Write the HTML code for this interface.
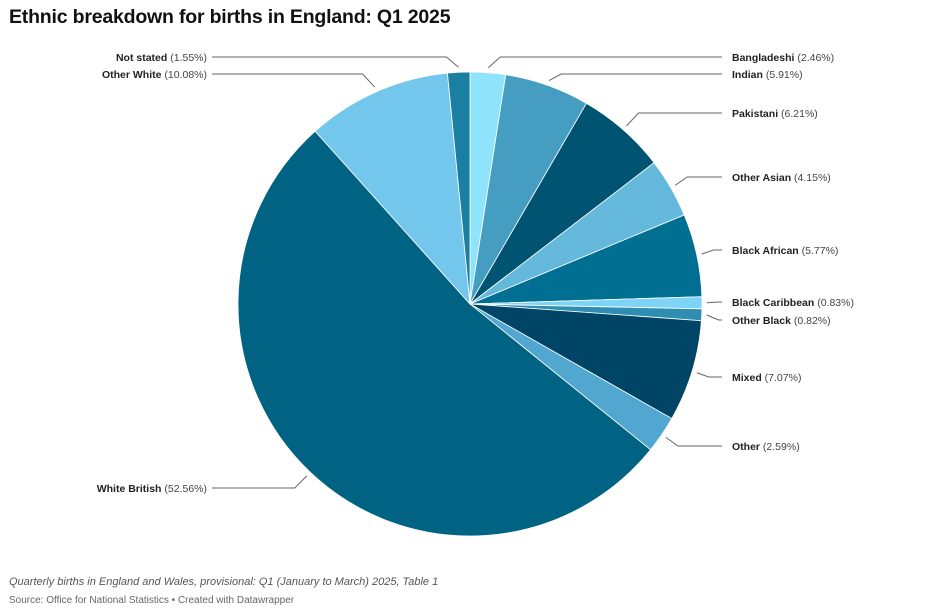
<!DOCTYPE html>
<html><head><meta charset="utf-8">
<style>
body{margin:0;background:#fff;font-family:"Liberation Sans",sans-serif;}
#wrap{position:relative;width:940px;height:615px;overflow:hidden}
h1{position:absolute;left:9px;top:6px;margin:0;font-size:19.5px;font-weight:bold;color:#111;letter-spacing:-0.2px}
.note{position:absolute;left:9px;font-size:11px;color:#555}
</style></head><body>
<div id="wrap">
<h1>Ethnic breakdown for births in England: Q1 2025</h1>
<svg id="pie" width="940" height="615" style="position:absolute;left:0;top:0"></svg>
<div class="note" style="top:576px;font-style:italic">Quarterly births in England and Wales, provisional: Q1 (January to March) 2025, Table 1</div>
<div class="note" style="top:595px;font-size:10px;color:#666">Source: Office for National Statistics • Created with Datawrapper</div>
</div>
<script>
const categories=["Bangladeshi","Indian","Pakistani","Other Asian","Black African","Black Caribbean","Other Black","Mixed","Other","White British","Other White","Not stated"];
const values=[2.46,5.91,6.21,4.15,5.77,0.83,0.82,7.07,2.59,52.56,10.08,1.55];
const colors=["#8fe3fb","#459dc1","#005472","#64b8dc","#006f92","#7ed4f7","#2f8db3","#004565","#51a7cf","#006384","#74c7ec","#1a7fa2"];
const labelY=[57,74,113,177,250,302,320,377,446,488,74,57];
const cx=470,cy=304,r=232;
const svg=document.getElementById('pie');
const NS='http://www.w3.org/2000/svg';
const total=values.reduce((a,b)=>a+b,0);
function pt(a,rad){return [cx+rad*Math.sin(a),cy-rad*Math.cos(a)];}
let acc=0;
values.forEach((v,i)=>{
  const a0=acc/total*2*Math.PI; acc+=v; const a1=acc/total*2*Math.PI;
  const p0=pt(a0,r),p1=pt(a1,r);
  const large=(a1-a0)>Math.PI?1:0;
  const path=document.createElementNS(NS,'path');
  path.setAttribute('d',`M${cx},${cy}L${p0[0]},${p0[1]}A${r},${r} 0 ${large} 1 ${p1[0]},${p1[1]}Z`);
  path.setAttribute('fill',colors[i]);path.setAttribute('stroke','#fff');path.setAttribute('stroke-width','0.8');
  
  
  svg.appendChild(path);
  const am=(a0+a1)/2; const s=pt(am,r+5);
  const right=Math.sin(am)>0;
  const ly=labelY[i];
  const ex=s[0]+(right?1:-1)*Math.max(12,Math.abs(s[1]-ly)*0.9);
  const endX=right?722:212;
  const line=document.createElementNS(NS,'polyline');
  line.setAttribute('points',`${s[0]},${s[1]} ${ex},${ly} ${endX},${ly}`);
  line.setAttribute('fill','none');line.setAttribute('stroke','#666');line.setAttribute('stroke-width','1');
  
  
  svg.appendChild(line);
  const t=document.createElementNS(NS,'text');
  t.setAttribute('x',right?732:207);t.setAttribute('y',ly+4);
  t.setAttribute('text-anchor',right?'start':'end');
  t.setAttribute('font-size','10.5');t.setAttribute('fill','#222');
  t.setAttribute('font-family','Liberation Sans, sans-serif');
  
  
  const b=document.createElementNS(NS,'tspan');b.setAttribute('font-weight','bold');b.textContent=categories[i];
  const n=document.createElementNS(NS,'tspan');n.setAttribute('fill','#444');n.textContent=' ('+values[i].toFixed(2)+'%)';
  t.appendChild(b);t.appendChild(n);svg.appendChild(t);
});
</script>
</body></html>
